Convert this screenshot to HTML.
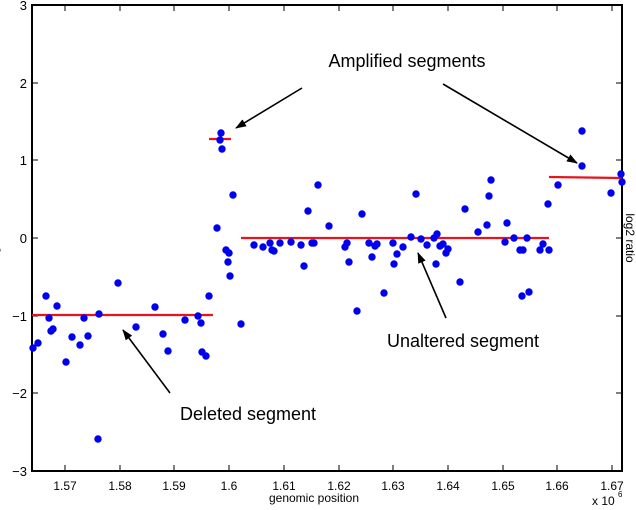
<!DOCTYPE html>
<html><head><style>body{margin:0;background:#fff}svg{display:block}</style></head><body>
<svg width="636" height="510" xmlns="http://www.w3.org/2000/svg" font-family="Liberation Sans, sans-serif">
<defs><marker id="ah" markerWidth="11" markerHeight="8" refX="10" refY="4" orient="auto" markerUnits="userSpaceOnUse"><path d="M0,0 L11,4 L0,8 z" fill="#000"/></marker></defs>
<rect x="32" y="5" width="590" height="466" fill="none" stroke="#000" stroke-width="2"/>
<g stroke="#000" stroke-width="1">
<path d="M65,471v-6M120,471v-6M174,471v-6M229,471v-6M284,471v-6M339,471v-6M393,471v-6M448,471v-6M503,471v-6M557,471v-6M612,471v-6"/>
<path d="M65,5v6M120,5v6M174,5v6M229,5v6M284,5v6M339,5v6M393,5v6M448,5v6M503,5v6M557,5v6M612,5v6"/>
<path d="M32,83h6M32,160h6M32,238h6M32,316h6M32,393h6M622,83h-6M622,160h-6M622,238h-6M622,316h-6M622,393h-6"/>
</g>
<g font-size="12" text-anchor="middle">
<text x="65" y="490">1.57</text><text x="120" y="490">1.58</text><text x="174" y="490">1.59</text><text x="229" y="490">1.6</text><text x="284" y="490">1.61</text><text x="339" y="490">1.62</text><text x="393" y="490">1.63</text><text x="448" y="490">1.64</text><text x="503" y="490">1.65</text><text x="557" y="490">1.66</text><text x="612" y="490">1.67</text>
<text x="314" y="502">genomic position</text>
</g>
<text x="592" y="505" font-size="12">x 10</text><text x="618" y="497" font-size="8">6</text>
<g font-size="13" text-anchor="end">
<text x="27" y="10">3</text><text x="27" y="88">2</text><text x="27" y="165">1</text><text x="27" y="243">0</text><text x="27" y="321">−1</text><text x="27" y="398">−2</text><text x="27" y="476">−3</text>
</g>
<text transform="translate(-2,238) rotate(-90)" font-size="12" text-anchor="middle">log2 ratio</text>
<text transform="translate(626,238) rotate(90)" font-size="12" text-anchor="middle">log2 ratio</text>
<g stroke="#e8131b" stroke-width="2.2">
<line x1="32" y1="315" x2="213" y2="315"/><line x1="209" y1="139" x2="231" y2="139"/><line x1="241" y1="238" x2="549" y2="238"/><line x1="549" y1="177" x2="622" y2="178"/>
</g>
<g fill="#0000f0">
<circle cx="33" cy="348" r="3.7"/><circle cx="38" cy="343" r="3.7"/><circle cx="46" cy="296" r="3.7"/><circle cx="49" cy="318" r="3.7"/><circle cx="51" cy="331" r="3.7"/><circle cx="53" cy="329" r="3.7"/><circle cx="57" cy="306" r="3.7"/><circle cx="66" cy="362" r="3.7"/><circle cx="72" cy="337" r="3.7"/><circle cx="80" cy="345" r="3.7"/><circle cx="84" cy="318" r="3.7"/><circle cx="88" cy="336" r="3.7"/><circle cx="98" cy="439" r="3.7"/><circle cx="99" cy="314" r="3.7"/><circle cx="118" cy="283" r="3.7"/><circle cx="136" cy="327" r="3.7"/><circle cx="155" cy="307" r="3.7"/><circle cx="163" cy="334" r="3.7"/><circle cx="168" cy="351" r="3.7"/><circle cx="185" cy="320" r="3.7"/><circle cx="198" cy="316" r="3.7"/><circle cx="201" cy="323" r="3.7"/><circle cx="202" cy="352" r="3.7"/><circle cx="206" cy="356" r="3.7"/><circle cx="209" cy="296" r="3.7"/>
<circle cx="217" cy="228" r="3.7"/><circle cx="220" cy="140" r="3.7"/><circle cx="221" cy="133" r="3.7"/><circle cx="222" cy="149" r="3.7"/><circle cx="226" cy="250" r="3.7"/><circle cx="228" cy="262" r="3.7"/><circle cx="229" cy="253" r="3.7"/><circle cx="230" cy="276" r="3.7"/><circle cx="233" cy="195" r="3.7"/><circle cx="241" cy="324" r="3.7"/>
<circle cx="254" cy="245" r="3.7"/><circle cx="263" cy="247" r="3.7"/><circle cx="270" cy="243" r="3.7"/><circle cx="272" cy="250" r="3.7"/><circle cx="274" cy="251" r="3.7"/><circle cx="280" cy="243" r="3.7"/><circle cx="291" cy="242" r="3.7"/><circle cx="301" cy="245" r="3.7"/><circle cx="304" cy="266" r="3.7"/><circle cx="308" cy="211" r="3.7"/><circle cx="312" cy="243" r="3.7"/><circle cx="314" cy="243" r="3.7"/><circle cx="318" cy="185" r="3.7"/><circle cx="329" cy="226" r="3.7"/><circle cx="345" cy="247" r="3.7"/><circle cx="347" cy="243" r="3.7"/><circle cx="349" cy="262" r="3.7"/><circle cx="357" cy="311" r="3.7"/><circle cx="362" cy="214" r="3.7"/><circle cx="369" cy="243" r="3.7"/><circle cx="372" cy="257" r="3.7"/><circle cx="375" cy="246" r="3.7"/><circle cx="377" cy="244" r="3.7"/><circle cx="384" cy="293" r="3.7"/><circle cx="393" cy="243" r="3.7"/><circle cx="394" cy="264" r="3.7"/><circle cx="397" cy="254" r="3.7"/><circle cx="403" cy="247" r="3.7"/><circle cx="411" cy="237" r="3.7"/><circle cx="416" cy="194" r="3.7"/><circle cx="421" cy="239" r="3.7"/><circle cx="427" cy="245" r="3.7"/><circle cx="434" cy="238" r="3.7"/><circle cx="436" cy="264" r="3.7"/><circle cx="437" cy="234" r="3.7"/><circle cx="440" cy="246" r="3.7"/><circle cx="443" cy="244" r="3.7"/><circle cx="446" cy="253" r="3.7"/><circle cx="448" cy="249" r="3.7"/><circle cx="460" cy="282" r="3.7"/><circle cx="465" cy="209" r="3.7"/><circle cx="478" cy="232" r="3.7"/><circle cx="487" cy="225" r="3.7"/><circle cx="489" cy="196" r="3.7"/><circle cx="491" cy="180" r="3.7"/><circle cx="505" cy="242" r="3.7"/><circle cx="507" cy="223" r="3.7"/><circle cx="514" cy="238" r="3.7"/><circle cx="520" cy="250" r="3.7"/><circle cx="522" cy="296" r="3.7"/><circle cx="523" cy="250" r="3.7"/><circle cx="527" cy="238" r="3.7"/><circle cx="529" cy="292" r="3.7"/><circle cx="540" cy="250" r="3.7"/><circle cx="543" cy="244" r="3.7"/><circle cx="549" cy="250" r="3.7"/>
<circle cx="548" cy="204" r="3.7"/><circle cx="558" cy="185" r="3.7"/><circle cx="582" cy="166" r="3.7"/><circle cx="582" cy="131" r="3.7"/><circle cx="611" cy="193" r="3.7"/><circle cx="621" cy="174" r="3.7"/><circle cx="622" cy="182" r="3.7"/>
</g>
<g stroke="#000" stroke-width="1.6" marker-end="url(#ah)">
<line x1="302" y1="88" x2="236" y2="128"/><line x1="443" y1="84" x2="577" y2="163"/><line x1="446" y1="318" x2="418" y2="253"/><line x1="170" y1="393" x2="123" y2="330"/>
</g>
<g font-size="18" text-anchor="middle">
<text x="407" y="67">Amplified segments</text><text x="463" y="347">Unaltered segment</text><text x="248" y="420">Deleted segment</text>
</g>
</svg>
</body></html>
